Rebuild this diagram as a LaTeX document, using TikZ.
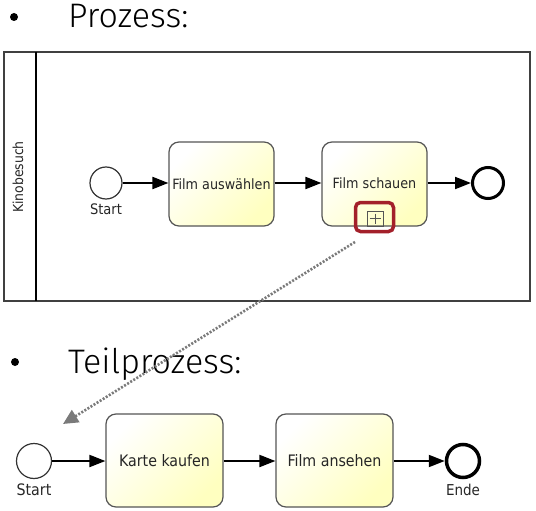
\documentclass[tikz,border=0pt]{standalone}
\usepackage{fontspec}
\setmainfont{DejaVu Sans Condensed}
\newfontfamily\titlefont{Fira Sans Light}
\usetikzlibrary{arrows.meta,calc}
\definecolor{taskborder}{HTML}{555555}
\definecolor{taskfill}{HTML}{FFFFC0}
\definecolor{markred}{HTML}{A3202A}
\definecolor{dotgray}{HTML}{7A7A7A}
\tikzset{
  task/.style={draw=taskborder, line width=1.2pt, rounded corners=10pt,
    top color=white, bottom color=taskfill, shading angle=45,
    inner sep=0pt, text=black!85},
  uptask/.style={task, minimum width=105pt, minimum height=84pt, font=\fontsize{14.2}{16}\selectfont},
  lotask/.style={task, minimum width=117pt, minimum height=93pt, font=\fontsize{15.8}{18}\selectfont},
  startev/.style={circle, draw=black!80, line width=1.2pt, fill=white, inner sep=0pt},
  endev/.style={circle, draw=black, line width=3pt, fill=white, inner sep=0pt},
  flow/.style={draw=black, line width=2pt, -{Triangle[length=16pt,width=12pt]}},
  lbl/.style={inner sep=0pt, text=black!85},
  ttl/.style={inner sep=0pt, anchor=base west, font=\titlefont\fontsize{34}{40}\selectfont},
  bul/.style={circle, fill=black, inner sep=0pt, minimum size=8pt},
}
\begin{document}
\begin{tikzpicture}[x=1pt,y=-1pt]
\useasboundingbox (0,0) rectangle (536,511);
% titles
\node[bul] (b1) at (14,17) {};
\node[ttl] (t1) at (68,28) {Prozess:};
\node[bul] (b2) at (15,362) {};
\node[ttl] (t2) at (68,373) {Teilprozess:};
% pool
\node[draw=black!75, line width=1.3pt, minimum width=526pt, minimum height=249pt, inner sep=0pt] (pool) at (267,176.5) {};
\draw[line width=2pt] (36,52) -- (36,301);
\node[lbl, rotate=90, font=\fontsize{13.8}{15}\selectfont] (lane) at (18,177) {Kinobesuch};
% upper process
\node[startev, minimum size=32pt] (s1) at (106,183) {};
\node[lbl, font=\fontsize{14.5}{16}\selectfont] (s1l) at (106,209) {Start};
\node[uptask] (a1) at (221.5,184) {Film auswählen};
\node[uptask] (a2) at (374.5,184) {};
\node[lbl, font=\fontsize{14.2}{16}\selectfont] (a2l) at (374.5,183) {Film schauen};
\node[endev, minimum size=31pt] (e1) at (488,183) {};
\draw[flow] (s1) -- (a1.west |- s1);
\draw[flow] (a1.east |- s1) -- (a2.west |- s1);
\draw[flow] (a2.east |- e1) -- (e1);
% collapsed subprocess marker
\node[draw=taskborder, line width=1pt, minimum width=16pt, minimum height=15pt, inner sep=0pt] (plus) at (375,218.5) {};
\draw[line width=1pt, taskborder] ($(plus.north)+(0,3)$) -- ($(plus.south)+(0,-3)$);
\draw[line width=1pt, taskborder] ($(plus.west)+(3,0)$) -- ($(plus.east)+(-3,0)$);
\node[draw=markred, line width=3.5pt, rounded corners=5pt, minimum width=38pt, minimum height=29pt, inner sep=0pt] (mark) at (374.5,217) {};
% dotted link
\coordinate (d0) at (355,242);
\coordinate (d1) at (63,424);
\draw[dotgray, line width=2.6pt, dash pattern=on 2pt off 1.6pt, -{Triangle[length=15pt,width=14pt]}] (d0) -- (d1);
% lower process
\node[startev, minimum size=35pt] (s2) at (34,461) {};
\node[lbl, font=\fontsize{15.8}{18}\selectfont] (s2l) at (34,490) {Start};
\node[lotask] (k1) at (164.5,460.5) {Karte kaufen};
\node[lotask] (k2) at (334.5,460.5) {Film ansehen};
\node[endev, minimum size=33pt, line width=3.5pt] (e2) at (463,461) {};
\node[lbl, font=\fontsize{15}{17}\selectfont] (e2l) at (463,490) {Ende};
\draw[flow] (s2) -- (k1.west |- s2);
\draw[flow] (k1.east |- s2) -- (k2.west |- s2);
\draw[flow] (k2.east |- e2) -- (e2);
\end{tikzpicture}
\end{document}
